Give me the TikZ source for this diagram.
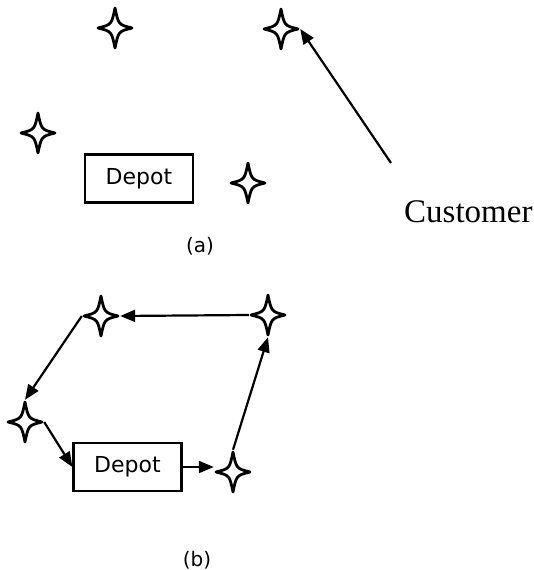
\documentclass[tikz,border=0pt]{standalone}
\usepackage{fontspec}
\setmainfont{Liberation Serif}
\newfontfamily\labelfont{DejaVu Sans}
\usetikzlibrary{arrows.meta}

% four-pointed customer star, drawn inside a named node
\tikzset{
  customer/.style={
    shape=rectangle, inner sep=0pt, minimum width=38pt, minimum height=44pt,
    path picture={
      \draw[line width=2.8pt, line join=round,
            shift={(path picture bounding box.center)}]
        (17,0) .. controls (3.4,3.4) .. (0,20)
               .. controls (-3.4,3.4) .. (-17,0)
               .. controls (-3.4,-3.4) .. (0,-20)
               .. controls (3.4,-3.4) .. (17,0) -- cycle;
    }},
  depot/.style={draw, line width=2.2pt, inner sep=0pt,
    minimum width=108pt, minimum height=48pt,
    font=\labelfont\fontsize{22}{26}\selectfont},
  caption/.style={font=\labelfont\fontsize{20}{24}\selectfont, inner sep=0pt},
  route/.style={line width=2.2pt, -{Triangle[length=15pt,width=12pt]}}
}

\begin{document}
\begin{tikzpicture}[x=1pt, y=-1pt]
\useasboundingbox (0,0) rectangle (534,570);

% (a) customers and depot
\node[customer] (a1) at (115,28) {};
\node[customer] (a2) at (281,29) {};
\node[customer] (a3) at (38,133) {};
\node[customer] (a4) at (248,183) {};
\node[depot] (adepot) at (139,178.5) {Depot};
\node[anchor=base west, inner sep=0pt, font=\fontsize{33}{38}\selectfont]
  (cust) at (404,222) {Customer};
\coordinate (lead) at (391,163);
\draw[route] (lead) -- (a2.east);
\node[caption] (capa) at (200,246) {(a)};

% (b) a route through all customers
\node[customer] (b1) at (101,316) {};
\node[customer] (b2) at (268,315) {};
\node[customer] (b3) at (25,422) {};
\node[customer] (b4) at (233,472) {};
\node[depot] (bdepot) at (127.5,467) {Depot};
\draw[route] (b2.west) -- (b1.east);
\draw[route] (b1.west) -- (b3.north);
\draw[route] (b3.east) -- (bdepot.west);
\draw[route] (bdepot.east) -- (b4.west |- bdepot.east);
\draw[route] (b4.north) -- (b2.south);
\node[caption] (capb) at (197,560) {(b)};
\end{tikzpicture}
\end{document}
